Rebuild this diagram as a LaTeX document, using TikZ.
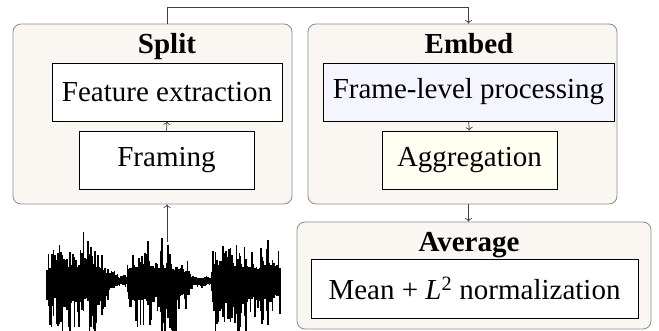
\documentclass[tikz,border=0pt]{standalone}
\usepackage{fontspec}
\setmainfont{Liberation Serif}
\usetikzlibrary{arrows.meta}
\definecolor{panelfill}{HTML}{FAF7F2}
\definecolor{panelline}{HTML}{8C8C8C}
\definecolor{lavender}{HTML}{F5F5FF}
\definecolor{cream}{HTML}{FFFFF2}
\tikzset{
  panel/.style={draw=panelline, fill=panelfill, rounded corners=8pt, line width=0.8pt},
  stagebox/.style={draw=black, fill=white, line width=0.8pt, inner sep=0pt},
  title/.style={font=\fontsize{29}{33}\selectfont\bfseries, anchor=base},
  label/.style={font=\fontsize{29}{33}\selectfont},
  link/.style={draw=black!75, line width=0.7pt, -{To[length=3.5pt,width=7pt]}},
}
\begin{document}
\begin{tikzpicture}[x=1pt, y=-1pt]
\useasboundingbox (0,0) rectangle (659,331);

% containers
\node[panel, minimum width=279pt, minimum height=180pt] (split) at (152.5,114) {};
\node[panel, minimum width=309pt, minimum height=180pt] (embed) at (462.5,114) {};
\node[panel, minimum width=354pt, minimum height=107pt] (average) at (474,275.5) {};

% titles
\node[title] (splitT) at (167,54) {Split};
\node[title] (embedT) at (469,54) {Embed};
\node[title] (avgT) at (469,252) {Average};

% inner stages
\node[stagebox, label, minimum width=230pt, minimum height=58pt] (feat) at (167,92) {Feature extraction};
\node[stagebox, label, minimum width=175pt, minimum height=58pt] (framing) at (166.5,160) {Framing};
\node[stagebox, label, fill=lavender, minimum width=291pt, minimum height=58pt] (frame) at (468.5,92) {Frame-level processing};
\node[stagebox, label, fill=cream, minimum width=175pt, minimum height=58pt] (aggr) at (469.5,160) {Aggregation};
\node[stagebox, label, minimum width=327pt, minimum height=59pt] (mean) at (474.5,288.5) {Mean + \textit{L}\textsuperscript{2} normalization};

% waveform: envelope segments x0/x1/amp0/amp1, with needle-like random peaks
\pgfmathsetseed{23}
\gdef\ru{0.5}\gdef\rd{0.5}
\begin{scope}[line width=1.7pt, black]
\foreach \xa/\xb/\aa/\ab in {47/52/28/34, 52/70/34/38, 70/92/38/42, 92/102/40/28,
  102/110/28/10, 110/118/10/5, 118/126/5/4, 126/130/4/38, 130/150/38/36,
  150/170/36/34, 170/186/34/24, 186/193/24/5, 193/210/4/4, 210/214/4/40,
  214/240/40/42, 240/262/40/34, 262/280/34/30}{
  \pgfmathsetmacro\xn{\xa+1.5}
  \foreach \x in {\xa,\xn,...,\xb}{
    \pgfmathsetmacro\env{\aa+(\ab-\aa)*(\x-\xa)/(\xb-\xa)}
    \pgfmathsetmacro\tu{0.35*\ru+0.65*rnd}\xdef\ru{\tu}
    \pgfmathsetmacro\td{0.35*\rd+0.65*rnd}\xdef\rd{\td}
    \pgfmathsetmacro\up{\env*(0.3+1.3*\ru^2.2)+1.5}
    \pgfmathsetmacro\dn{1.25*\env*(0.3+1.3*\rd^2.2)+1.5}
    \draw (\x,281-\up) -- (\x,281+\dn);
  }
}
\end{scope}
\coordinate (wavetop) at (167,242);

% connectors
\draw[link] (framing.north) -- (feat.south);
\draw[link] (frame.south) -- (aggr.north);
\draw[link] (wavetop) -- (split.south -| wavetop);
\draw[link] (split.north -| feat.north) -- ++(0,-16) -| (frame.north |- embed.north);
\draw[link] (embed.south -| frame.south) -- (average.north -| frame.south);
\end{tikzpicture}
\end{document}
